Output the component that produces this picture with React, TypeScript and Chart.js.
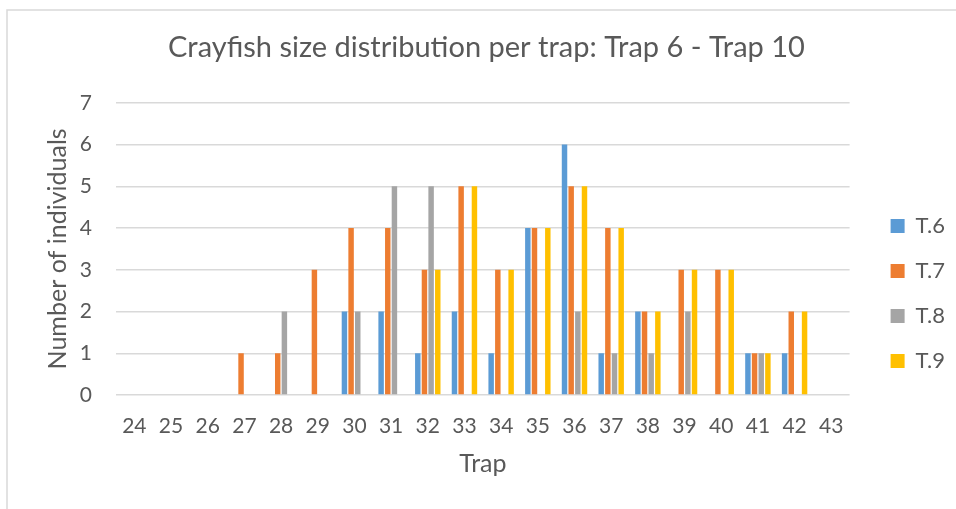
import React, { useEffect, useRef } from "react";
import { Chart, registerables } from "chart.js";

Chart.register(...registerables);

const categories = ["24","25","26","27","28","29","30","31","32","33","34","35","36","37","38","39","40","41","42","43"];
const t6 = [0,0,0,0,0,0,2,2,1,2,1,4,6,1,2,0,0,1,1,0];
const t7 = [0,0,0,1,1,3,4,4,3,5,3,4,5,4,2,3,3,1,2,0];
const t8 = [0,0,0,0,2,0,2,5,5,0,0,0,2,1,1,2,0,1,0,0];
const t9 = [0,0,0,0,0,0,0,0,3,5,3,4,5,4,2,3,3,1,2,0];
const seriesNames = ["T.6","T.7","T.8","T.9"];
const seriesColors = ["#5B9BD5","#ED7D31","#A5A5A5","#FFC000"];
const yTicks = [0,1,2,3,4,5,6,7];

const FONT = "Lato";
const TEXT = "#595959";

export default function App() {
  const ref = useRef<HTMLCanvasElement>(null);
  useEffect(() => {
    const canvas = ref.current;
    if (!canvas) return;
    const borderPlugin = {
      id: "frame",
      beforeDraw(chart: any) {
        const ctx = chart.ctx;
        ctx.save();
        ctx.fillStyle = "#ffffff";
        ctx.fillRect(0, 0, chart.width, chart.height);
        ctx.strokeStyle = "#d9d9d9";
        ctx.lineWidth = 1.5;
        ctx.beginPath();
        ctx.moveTo(7, chart.height);
        ctx.lineTo(7, 10);
        ctx.lineTo(chart.width, 10);
        ctx.stroke();
        ctx.restore();
      },
    };
    const legendShift = {
      id: "legendShift",
      afterLayout(chart: any) {
        const lg = chart.legend;
        if (lg) {
          lg.left += 18;
          lg.right += 18;
          lg.top += 39;
          lg.bottom += 39;
        }
      },
    };
    const data = [t6, t7, t8, t9];
    const chart = new Chart(canvas, {
      type: "bar",
      data: {
        labels: categories,
        datasets: seriesNames.map((name, i) => ({
          label: name,
          data: data[i],
          backgroundColor: seriesColors[i],
          borderWidth: 0,
          categoryPercentage: 0.726,
          barPercentage: 0.82,
        })),
      },
      plugins: [borderPlugin, legendShift],
      options: {
        responsive: false,
        animation: false,
        layout: { padding: { left: 36, top: 10, right: 19, bottom: 10 } },
        plugins: {
          title: {
            display: true,
            text: "Crayfish size distribution per trap: Trap 6 - Trap 10",
            color: TEXT,
            font: { family: FONT, size: 29, weight: "normal" },
            padding: { top: 20, bottom: 38 },
          },
          legend: {
            position: "right",
            labels: {
              boxWidth: 14,
              boxHeight: 14,
              padding: 23,
              color: TEXT,
              font: { family: FONT, size: 22 },
            },
          },
          tooltip: { enabled: false },
        },
        scales: {
          x: {
            grid: { display: false },
            border: { display: false },
            ticks: { color: TEXT, font: { family: FONT, size: 21 }, padding: 11, maxRotation: 0, autoSkip: false },
            title: { display: true, text: "Trap", color: TEXT, font: { family: FONT, size: 25 }, padding: { top: 0, bottom: 20 } },
            afterFit(scale: any) { scale.height = 104; },
          },
          y: {
            min: 0,
            max: 7,
            afterBuildTicks(scale: any) { scale.ticks = yTicks.map((v) => ({ value: v })); },
            grid: { color: "#d9d9d9", lineWidth: 1.5, drawTicks: false },
            border: { display: false },
            ticks: { color: TEXT, font: { family: FONT, size: 21 }, padding: 24 },
            title: { display: true, text: "Number of individuals", color: TEXT, font: { family: FONT, size: 25 }, padding: { top: 7, bottom: 0 } },
            afterFit(scale: any) { scale.width = 80; },
          },
        },
      },
    });
    return () => chart.destroy();
  }, []);
  return (
    <div style={{ position: "absolute", left: 0, top: 0, width: 956, height: 509, background: "#fff" }}>
      <canvas ref={ref} width={956} height={509} style={{ width: 956, height: 509, display: "block" }} />
    </div>
  );
}
